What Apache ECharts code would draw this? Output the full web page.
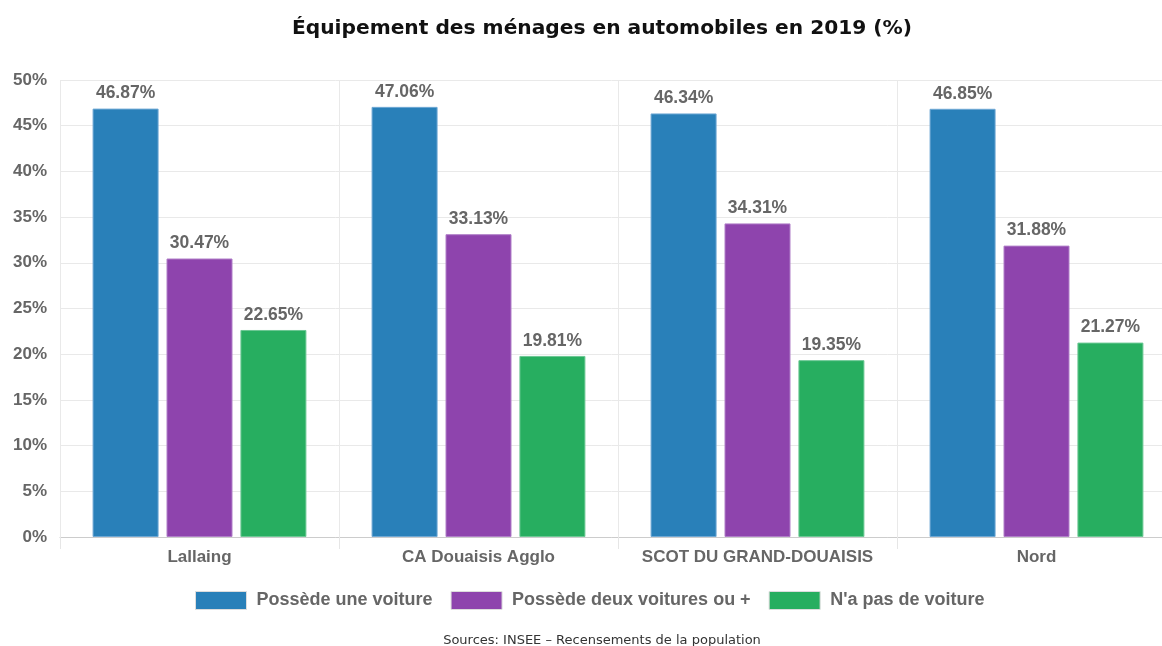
<!DOCTYPE html>
<html>
<head>
<meta charset="utf-8">
<script src="https://cdn.jsdelivr.net/npm/echarts@6/dist/echarts.min.js"></script>
<style>
  html, body { margin: 0; padding: 0; background: #fff; }
  #chart { width: 1162px; height: 646px; }
</style>
</head>
<body>
<div id="chart"></div>
<script>
// Household car ownership by area, 2019 (%)
const categories = ['Lallaing', 'CA Douaisis Agglo', 'SCOT DU GRAND-DOUAISIS', 'Nord'];
const seriesNames = ['Possède une voiture', 'Possède deux voitures ou +', "N'a pas de voiture"];
const oneCar = [46.87, 47.06, 46.34, 46.85];
const twoCarsOrMore = [30.47, 33.13, 34.31, 31.88];
const noCar = [22.65, 19.81, 19.35, 21.27];
const colors = ['#2980b9', '#8e44ad', '#27ae60'];
const borders = ['#6fa8d4', '#b07ec8', '#6cc894'];

const chart = echarts.init(document.getElementById('chart'), null, { renderer: 'canvas' });

const labelFont = 'Liberation Sans, Arial, sans-serif';

function barSeries(name, data, i) {
  return {
    name: name,
    type: 'bar',
    data: data,
    barWidth: 66,
    barGap: '12%',
    itemStyle: { color: colors[i], borderColor: borders[i], borderWidth: 1 },
    label: {
      show: true,
      position: 'top',
      distance: 6,
      formatter: p => p.value.toFixed(2) + '%',
      color: '#666',
      fontFamily: labelFont,
      fontWeight: 'bold',
      fontSize: 17.5
    }
  };
}

chart.setOption({
  animation: false,
  title: [{
    text: 'Équipement des ménages en automobiles en 2019 (%)',
    left: 597,
    textAlign: 'center',
    top: 14,
    textStyle: { fontFamily: 'DejaVu Sans, sans-serif', fontWeight: 'bold', fontSize: 20.2, color: '#111' }
  }, {
    text: 'Sources: INSEE – Recensements de la population',
    left: 597,
    textAlign: 'center',
    top: 629,
    textStyle: { fontFamily: 'DejaVu Sans, sans-serif', fontWeight: 'normal', fontSize: 13, color: '#333' }
  }],
  legend: {
    data: seriesNames,
    left: 190,
    top: 586,
    itemWidth: 51,
    itemHeight: 18,
    itemGap: 18,
    icon: 'rect',
    itemStyle: { borderColor: '#ddd', borderWidth: 1 },
    textStyle: { color: '#666', fontFamily: labelFont, fontWeight: 'bold', fontSize: 18, padding: [0, 0, 0, 5] }
  },
  // the last category runs past the right edge of the canvas
  grid: { left: 60, width: 1116, top: 80, bottom: 109, containLabel: false, outerBoundsMode: 'none' },
  xAxis: {
    type: 'category',
    data: categories,
    axisLine: { lineStyle: { color: '#ccc' } },
    axisTick: { show: true, interval: 0, length: 12, lineStyle: { color: '#e6e6e6' } },
    splitLine: { show: true, interval: 0, lineStyle: { color: '#e9e9e9' } },
    axisLabel: { interval: 0, color: '#666', fontFamily: labelFont, fontWeight: 'bold', fontSize: 17, margin: 12 }
  },
  yAxis: {
    type: 'value',
    min: 0,
    max: 50,
    interval: 5,
    axisLine: { show: false },
    axisTick: { show: false },
    splitLine: { lineStyle: { color: '#e9e9e9' } },
    axisLabel: {
      formatter: '{value}%',
      color: '#666',
      fontFamily: labelFont,
      fontWeight: 'bold',
      fontSize: 17,
      margin: 13
    }
  },
  series: [
    barSeries(seriesNames[0], oneCar, 0),
    barSeries(seriesNames[1], twoCarsOrMore, 1),
    barSeries(seriesNames[2], noCar, 2)
  ]
});
</script>
</body>
</html>
